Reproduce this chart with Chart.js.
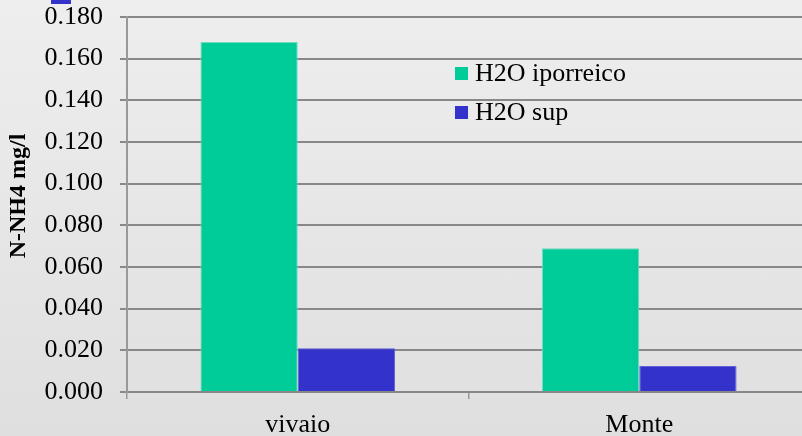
<!DOCTYPE html>
<html>
<head>
<meta charset="utf-8">
<script src="https://cdn.jsdelivr.net/npm/chart.js@4/dist/chart.umd.min.js"></script>
<style>
  html, body { margin: 0; padding: 0; overflow: hidden; width: 802px; height: 436px; }
  #wrap { width: 802px; height: 436px; overflow: hidden; position: relative;
          background: linear-gradient(to bottom, #eeeeee 0%, #dfdfdf 100%); }
  canvas { display: block; position: absolute; left: 0; top: 0; }
</style>
</head>
<body>
<div id="wrap"><canvas id="c" width="810" height="436"></canvas></div>
<script>
// Sampling sites and ammonium concentrations (N-NH4, mg/l)
const sites = ['vivaio', 'Monte'];
const iporreico = [0.168, 0.069];
const superficiale = [0.021, 0.0125];
const seriesNames = ['H2O iporreico', 'H2O sup'];
const seriesColors = ['#00cc99', '#3333cc'];
const seriesEdges = ['#70dcc0', '#6060d8'];
const axisTitle = 'N-NH4 mg/l';

const serif = '"Liberation Serif", "Times New Roman", serif';

// Legend inside the plot area plus the rotated axis title
const decorations = {
  id: 'decorations',
  afterDraw(chart) {
    const ctx = chart.ctx;
    ctx.save();
    // small swatch at the upper-left corner
    ctx.fillStyle = seriesColors[1];
    ctx.fillRect(51, 0, 20, 4);

    ctx.font = '26px ' + serif;
    ctx.textBaseline = 'middle';
    ctx.textAlign = 'left';
    const rows = [73, 112];
    seriesNames.forEach((name, i) => {
      ctx.fillStyle = seriesColors[i];
      ctx.fillRect(455, rows[i] - 6, 13, 13);
      ctx.fillStyle = '#000';
      ctx.fillText(name, 475, rows[i] + 1);
    });

    ctx.translate(19, 196);
    ctx.rotate(-Math.PI / 2);
    ctx.font = 'bold 24px ' + serif;
    ctx.textAlign = 'center';
    ctx.fillStyle = '#000';
    ctx.fillText(axisTitle, 0, 0);
    ctx.restore();
  }
};

new Chart(document.getElementById('c'), {
  type: 'bar',
  data: {
    labels: sites,
    datasets: [
      { label: seriesNames[0], data: iporreico, backgroundColor: seriesColors[0],
        borderColor: seriesEdges[0], borderWidth: 1 },
      { label: seriesNames[1], data: superficiale, backgroundColor: seriesColors[1],
        borderColor: seriesEdges[1], borderWidth: 1 }
    ]
  },
  options: {
    responsive: false,
    animation: false,
    devicePixelRatio: 1,
    layout: { padding: { top: 17, right: 0, left: 0, bottom: 0 } },
    datasets: { bar: { barPercentage: 1, categoryPercentage: 0.57 } },
    plugins: { legend: { display: false }, tooltip: { enabled: false } },
    scales: {
      x: {
        offset: true,
        grid: { offset: true, drawOnChartArea: false, drawTicks: true, tickLength: 7,
                color: '#999', lineWidth: 1.5 },
        border: { color: '#888', width: 2 },
        ticks: { color: '#000', font: { family: serif, size: 26 }, padding: 11 },
        afterFit(s) { s.height = 44; s.paddingLeft = 0; s.paddingRight = 0; }
      },
      y: {
        min: 0, max: 0.18,
        grid: { color: '#888', lineWidth: 2, tickLength: 7, drawTicks: true },
        border: { color: '#999', width: 2 },
        ticks: { stepSize: 0.02, color: '#000', font: { family: serif, size: 26 }, padding: 17,
                 callback: v => v.toFixed(3) },
        afterFit(s) { s.width = 127; s.paddingTop = 0; s.paddingBottom = 0; }
      }
    }
  },
  plugins: [decorations]
});
</script>
</body>
</html>
